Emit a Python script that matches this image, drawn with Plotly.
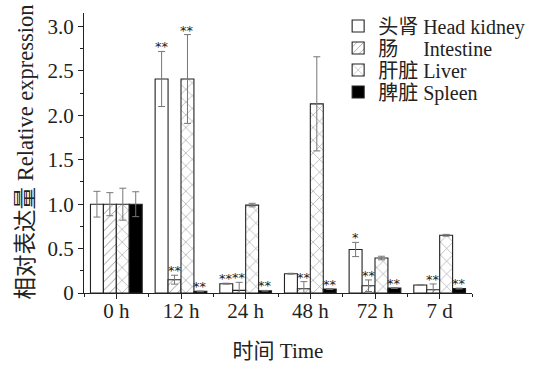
import plotly.graph_objects as go

categories = ["0 h", "12 h", "24 h", "48 h", "72 h", "7 d"]
series_names = ["头肾 Head kidney", "肠\u3000 Intestine", "肝脏 Liver", "脾脏 Spleen"]

head_kidney = [1.00, 2.41, 0.105, 0.217, 0.49, 0.09]
head_kidney_err = [0.145, 0.31, 0.005, 0.005, 0.08, 0.0]
intestine = [1.00, 0.15, 0.03, 0.048, 0.082, 0.037]
intestine_err = [0.13, 0.05, 0.09, 0.08, 0.065, 0.065]
liver = [1.00, 2.41, 0.99, 2.13, 0.394, 0.65]
liver_err = [0.18, 0.50, 0.02, 0.53, 0.02, 0.01]
spleen = [1.00, 0.018, 0.025, 0.045, 0.056, 0.05]
spleen_err = [0.14, 0.004, 0.004, 0.005, 0.005, 0.005]

hk_sig = ["", "**", "**", "", "*", ""]
int_sig = ["", "**", "**", "**", "**", "**"]
liv_sig = ["", "**", "", "", "", ""]
spl_sig = ["", "**", "**", "**", "**", "**"]

y_tickvals = [0, 0.5, 1.0, 1.5, 2.0, 2.5, 3.0]
y_ticktext = ["0", "0.5", "1.0", "1.5", "2.0", "2.5", "3.0"]

x_title = "时间 Time"
y_title = "相对表达量 Relative expression"

FONT = "Liberation Serif, 'Times New Roman', 'Noto Sans CJK SC', serif"
xs = list(range(len(categories)))

values = [head_kidney, intestine, liver, spleen]
errors = [head_kidney_err, intestine_err, liver_err, spleen_err]
sigs = [hk_sig, int_sig, liv_sig, spl_sig]
fills = ["white", "white", "white", "black"]
patterns = [dict(shape=""), dict(shape="/", fgcolor="#222", size=6, solidity=0.15),
            dict(shape="x", fgcolor="#222", size=9, solidity=0.12), dict(shape="")]
legend_ids = ["legend", "legend2", "legend3", "legend4"]

fig = go.Figure()
for k in range(4):
    fig.add_trace(go.Bar(
        x=xs, y=values[k], name=series_names[k],
        marker=dict(color=fills[k], line=dict(color="#222", width=1.1), pattern=patterns[k]),
        error_y=dict(type="data", array=errors[k], visible=True, color="#777", thickness=1, width=3.5),
        legend=legend_ids[k],
    ))

# significance marks
nser = 4
group_w = 0.8
bw = group_w / nser
for k in range(nser):
    off = -group_w / 2 + bw * (k + 0.5)
    for i, s in enumerate(sigs[k]):
        if s:
            fig.add_annotation(x=xs[i] + off, y=values[k][i] + errors[k][i], text=s,
                               showarrow=False, yanchor="bottom", yshift=-5,
                               font=dict(family="DejaVu Sans", size=13, color="#222"))

# y-axis title as rotated annotation (placed further left than axis title allows)
fig.add_annotation(x=-0.15, y=0.505, xref="paper", yref="paper", text=y_title, textangle=-90,
                   showarrow=False, xanchor="center", yanchor="middle",
                   font=dict(family=FONT, size=22.5, color="#222"))

legend_rows_y = [0.9536, 0.8751, 0.7965, 0.7179]
layout_legends = {}
for k, lid in enumerate(legend_ids):
    layout_legends[lid] = dict(x=0.655, y=legend_rows_y[k], xanchor="left", yanchor="middle",
                               bgcolor="rgba(0,0,0,0)", font=dict(family=FONT, size=20, color="#222"))

fig.update_layout(
    width=549, height=365,
    margin=dict(l=84, r=77, t=13, b=72, autoexpand=False),
    paper_bgcolor="white", plot_bgcolor="white",
    barmode="group", bargap=0.2, bargroupgap=0,
    font=dict(family=FONT, size=21, color="#222"),
    showlegend=True,
    **layout_legends,
)
fig.update_xaxes(
    range=[-0.5, 5.5], tickvals=xs, ticktext=categories,
    showline=True, linecolor="#222", linewidth=1.3, showgrid=False, zeroline=False,
    ticks="outside", ticklen=5, tickwidth=1.2, tickcolor="#222",
    minor=dict(dtick=0.5, tick0=0.5, ticks="outside", ticklen=3, tickcolor="#222", tickwidth=1),
    tickfont=dict(size=21), ticklabelstandoff=-6,
    title=dict(text=x_title, font=dict(size=21), standoff=20),
)
fig.update_yaxes(
    range=[0, 3.153], tickvals=y_tickvals, ticktext=y_ticktext,
    showline=True, linecolor="#222", linewidth=1.3, showgrid=False, zeroline=False,
    ticks="outside", ticklen=5, tickwidth=1.2, tickcolor="#222",
    minor=dict(dtick=0.25, ticks="outside", ticklen=3, tickcolor="#222", tickwidth=1),
    tickfont=dict(size=21),
)

fig.write_html("out.html", config={"displayModeBar": False},
               post_script="document.body.style.margin='0';")
